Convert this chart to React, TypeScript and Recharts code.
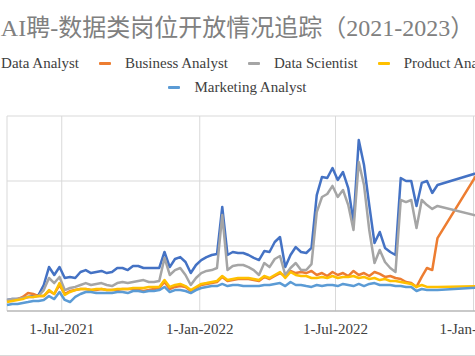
import { LineChart, Line, XAxis, YAxis, CartesianGrid } from "recharts"

// weekly snapshots (gap Nov 2022 -> Jan 2023)
const dates = [
  '2021-04-19', '2021-04-26', '2021-05-03', '2021-05-10', '2021-05-17', '2021-05-24', '2021-05-31', '2021-06-07', '2021-06-14', '2021-06-21',
  '2021-06-28', '2021-07-05', '2021-07-12', '2021-07-19', '2021-07-26', '2021-08-02', '2021-08-09', '2021-08-16', '2021-08-23', '2021-08-30',
  '2021-09-06', '2021-09-13', '2021-09-20', '2021-09-27', '2021-10-04', '2021-10-11', '2021-10-18', '2021-10-25', '2021-11-01', '2021-11-08',
  '2021-11-15', '2021-11-22', '2021-11-29', '2021-12-06', '2021-12-13', '2021-12-20', '2021-12-27', '2022-01-03', '2022-01-10', '2022-01-17',
  '2022-01-24', '2022-01-31', '2022-02-07', '2022-02-14', '2022-02-21', '2022-02-28', '2022-03-07', '2022-03-14', '2022-03-21', '2022-03-28',
  '2022-04-04', '2022-04-11', '2022-04-18', '2022-04-25', '2022-05-02', '2022-05-09', '2022-05-16', '2022-05-23', '2022-05-30', '2022-06-06',
  '2022-06-13', '2022-06-20', '2022-06-27', '2022-07-04', '2022-07-11', '2022-07-18', '2022-07-25', '2022-08-01', '2022-08-08', '2022-08-15',
  '2022-08-22', '2022-08-29', '2022-09-05', '2022-09-12', '2022-09-19', '2022-09-26', '2022-10-03', '2022-10-10', '2022-10-17', '2022-10-24',
  '2022-10-31', '2022-11-07', '2022-11-14',
  '2023-01-23',
]

const dataAnalyst = [
  85, 92, 92, 100, 108, 115, 123, 200, 338, 277,
  338, 254, 262, 254, 300, 315, 292, 300, 308, 292,
  300, 331, 331, 315, 346, 346, 331, 331, 331, 331,
  454, 338, 400, 415, 377, 292, 354, 392, 415, 431,
  438, 800, 431, 454, 446, 446, 431, 408, 392, 461,
  454, 531, 569, 338, 431, 492, 454, 446, 485, 892,
  1031, 1023, 1100, 1008, 1069, 946, 685, 1315, 1123, 815,
  523, 608, 485, 454, 431, 1023, 1000, 1000, 808, 985,
  1000, 908, 969,
  1092,
]

const businessAnalyst = [
  77, 85, 92, 108, 138, 131, 115, 115, 154, 131,
  200, 131, 154, 161, 169, 169, 161, 161, 169, 161,
  161, 161, 169, 169, 169, 161, 154, 161, 169, 177,
  223, 169, 185, 192, 185, 154, 177, 200, 208, 215,
  223, 262, 231, 238, 246, 246, 246, 238, 231, 262,
  246, 269, 292, 269, 308, 292, 300, 292, 308, 277,
  292, 269, 300, 277, 292, 269, 308, 277, 292, 269,
  300, 285, 262, 269, 254, 246, 223, 215, 185, 262,
  331, 315, 561,
  1215,
]

const dataScientist = [
  85, 92, 92, 100, 108, 108, 115, 161, 254, 215,
  262, 161, 177, 185, 200, 215, 200, 208, 215, 200,
  192, 215, 223, 215, 223, 231, 238, 223, 223, 231,
  408, 277, 315, 331, 277, 200, 254, 292, 308, 315,
  331, 738, 315, 346, 354, 354, 338, 315, 277, 369,
  338, 400, 423, 277, 331, 369, 315, 315, 361, 761,
  877, 900, 962, 877, 931, 815, 623, 1146, 969, 623,
  369, 469, 377, 331, 300, 854, 838, 854, 638, 854,
  815, 785, 808,
  708,
]

const productAnalyst = [
  69, 77, 85, 92, 108, 108, 115, 115, 161, 131,
  215, 123, 146, 161, 169, 169, 161, 169, 169, 161,
  161, 169, 169, 169, 177, 177, 177, 185, 185, 185,
  238, 185, 200, 208, 192, 161, 185, 208, 215, 223,
  231, 269, 238, 246, 254, 254, 254, 246, 238, 269,
  254, 277, 300, 254, 300, 277, 269, 269, 254, 254,
  262, 254, 269, 254, 262, 262, 269, 254, 262, 246,
  254, 238, 246, 231, 231, 223, 215, 208, 185, 200,
  185, 185, 185,
  192,
]

const marketingAnalyst = [
  46, 54, 54, 62, 69, 77, 77, 85, 115, 92,
  146, 85, 69, 108, 131, 146, 146, 138, 138, 138,
  138, 146, 146, 138, 154, 154, 146, 154, 154, 161,
  185, 146, 161, 161, 154, 138, 161, 177, 185, 192,
  192, 208, 192, 200, 200, 192, 192, 192, 192, 200,
  200, 208, 215, 192, 223, 200, 200, 192, 185, 200,
  192, 200, 200, 192, 208, 200, 192, 208, 192, 208,
  215, 200, 200, 200, 192, 192, 185, 185, 154, 169,
  161, 161, 161,
  185,
]

const xTicks = ['2021-07-01', '2022-01-01', '2022-07-01', '2023-01-01']
const yTicks = [0, 500, 1000, 1500]
const months = ['Jan', 'Feb', 'Mar', 'Apr', 'May', 'Jun', 'Jul', 'Aug', 'Sep', 'Oct', 'Nov', 'Dec']

// drawing order follows the legend order
const series = [
  { key: 'da', name: 'Data Analyst', color: '#4472C4', values: dataAnalyst },
  { key: 'ba', name: 'Business Analyst', color: '#ED7D31', values: businessAnalyst },
  { key: 'ds', name: 'Data Scientist', color: '#A5A5A5', values: dataScientist },
  { key: 'pa', name: 'Product Analyst', color: '#FFC000', values: productAnalyst },
  { key: 'ma', name: 'Marketing Analyst', color: '#5B9BD5', values: marketingAnalyst },
]

const rows = dates.map((d, i) => {
  const row: Record<string, number> = { t: Date.parse(d) }
  series.forEach(s => { row[s.key] = s.values[i] })
  return row
})

const fmtDate = (v: number) => {
  const d = new Date(v)
  return `${d.getUTCDate()}-${months[d.getUTCMonth()]}-${d.getUTCFullYear()}`
}

const serif = '"Liberation Serif", "Times New Roman", serif'

function LegendItem({ name, color }: { name: string, color: string }) {
  return (
    <span style={{ display: 'inline-flex', alignItems: 'center', margin: '0 10px' }}>
      <span style={{ width: 12, height: 3, background: color, borderRadius: 1, marginRight: 14 }}></span>
      <span>{name}</span>
    </span>
  )
}

export default function App() {
  const row1 = series.slice(0, 4)
  const row2 = series.slice(4)
  const legendRow = { position: 'absolute' as const, left: -60, width: 595, display: 'flex', justifyContent: 'center', whiteSpace: 'nowrap' as const, fontFamily: serif, fontSize: 15, color: '#404040', lineHeight: '22px' }
  return (
    <div style={{ position: 'fixed', left: 0, top: 0, width: 475, height: 356, overflow: 'hidden', background: '#fff' }}>
      {/* the chart is wider than the window: value labels sit off to the left */}
      <div style={{ position: 'absolute', left: -33, top: 0 }}>
        <LineChart width={540} height={356} data={rows} margin={{ top: 116, right: 17, bottom: 15, left: 0 }}>
          <CartesianGrid stroke="#d9d9d9" strokeWidth={1} />
          <XAxis dataKey="t" type="number" domain={[Date.parse(dates[0]), Date.parse(dates[dates.length - 1])]}
            ticks={xTicks.map(d => Date.parse(d))} tickFormatter={fmtDate} height={30}
            axisLine={{ stroke: '#a6a6a6', strokeWidth: 1 }} tickLine={false} tickMargin={6}
            tick={{ fontFamily: serif, fontSize: 15, fill: '#404040' }} />
          <YAxis domain={[0, 1500]} ticks={yTicks} width={40} axisLine={false} tickLine={false} tickMargin={14}
            tick={{ fontFamily: serif, fontSize: 15, fill: '#404040' }} />
          {series.map(s => (
            <Line key={s.key} dataKey={s.key} name={s.name} type="linear" stroke={s.color} strokeWidth={2.5}
              strokeLinejoin="round" dot={false} isAnimationActive={false} />
          ))}
        </LineChart>
      </div>
      <div style={{ position: 'absolute', left: -20, top: 13, width: 515, textAlign: 'center', whiteSpace: 'nowrap', fontFamily: '"Liberation Serif", "Noto Sans CJK SC", serif', fontSize: 24, lineHeight: '30px', color: '#808080' }}>
        AI聘-数据类岗位开放情况追踪（2021-2023）
      </div>
      <div style={{ ...legendRow, top: 52 }}>
        {row1.map(s => <LegendItem key={s.key} name={s.name} color={s.color} />)}
      </div>
      <div style={{ ...legendRow, top: 76 }}>
        {row2.map(s => <LegendItem key={s.key} name={s.name} color={s.color} />)}
      </div>
      <div style={{ position: 'absolute', left: 0, top: 355, width: 475, height: 1, background: '#d9d9d9' }}></div>
    </div>
  )
}
